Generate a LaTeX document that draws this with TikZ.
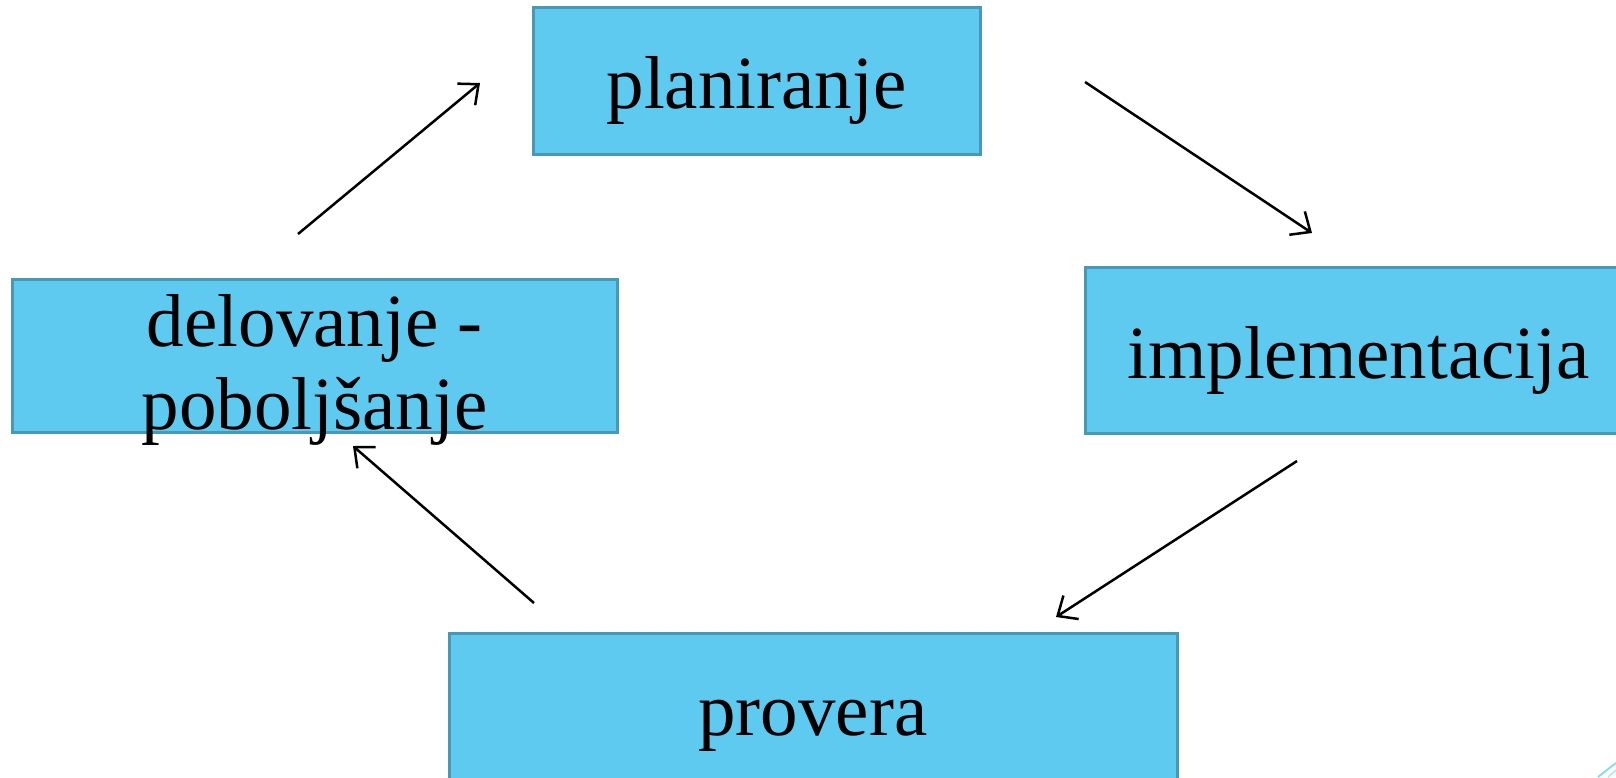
\documentclass[tikz,border=0pt]{standalone}
\usepackage{fontspec}
\setmainfont{Liberation Serif}
\usetikzlibrary{arrows.meta}
\definecolor{boxfill}{RGB}{94,202,239}
\definecolor{boxline}{RGB}{72,152,182}
\tikzstyle{block} = [rectangle, draw=boxline, line width=3pt, fill=boxfill, inner sep=0pt, text centered, font=\fontsize{75}{83}\selectfont, text height=66pt, text depth=10pt]
\tikzstyle{line} = [draw, line width=2.5pt, -{Straight Barb[length=16pt,width=28pt,line width=2.5pt]}]

\begin{document}
\begin{tikzpicture}[x=1pt,y=-1pt]
\useasboundingbox (0,0) rectangle (1616,777);
\clip (0,0) rectangle (1616,777);

\node [block, minimum width=447pt, minimum height=147pt] (plan) at (756.5,80.5) {planiranje};
\node [block, minimum width=547pt, minimum height=166pt] (impl) at (1358.5,350) {implementacija};
\node [block, minimum width=728pt, minimum height=148pt] (check) at (813,707) {provera};
\node [block, minimum width=605pt, minimum height=153pt, align=center, text height=150pt, text depth=3pt] (act) at (314.5,355.5) {delovanje -\\poboljšanje};

% arrow ends
\coordinate (act_out) at (298,234);
\coordinate (plan_in) at (480,83);
\coordinate (plan_out) at (1085,82);
\coordinate (impl_in) at (1312,233);
\coordinate (impl_out) at (1297,461);
\coordinate (check_in) at (1056,617);
\coordinate (check_out) at (534,603);
\coordinate (act_in) at (353,446);

% arrows
\path [line] (act_out) -- (plan_in);
\path [line] (plan_out) -- (impl_in);
\path [line] (impl_out) -- (check_in);
\path [line] (check_out) -- (act_in);

%corner
\draw [boxfill!70, line width=2pt] (1598,777) -- (1616,763);
\draw [boxfill!50, line width=1.5pt] (1608,777) -- (1616,770);

\end{tikzpicture}
\end{document}
